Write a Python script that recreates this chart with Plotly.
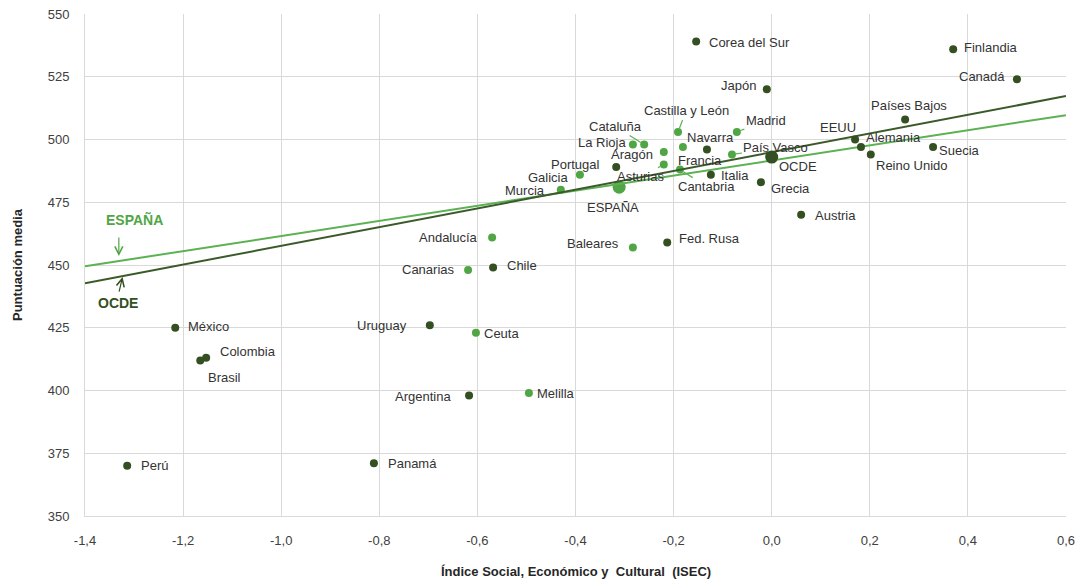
import plotly.graph_objects as go
import numpy as np

# ---------------- data ----------------
ocde_paises = ["Corea del Sur", "Finlandia", "Canadá", "Japón", "Países Bajos", "EEUU",
               "Alemania", "Reino Unido", "Suecia", "OCDE", "Francia", "Italia", "Grecia",
               "Portugal", "Austria", "Fed. Rusa", "Chile", "México", "Colombia", "Brasil",
               "Uruguay", "Argentina", "Panamá", "Perú"]
ocde_isec = [-0.154, 0.370, 0.500, -0.010, 0.272, 0.170,
             0.182, 0.202, 0.329, 0.000, -0.132, -0.124, -0.022,
             -0.317, 0.060, -0.213, -0.568, -1.216, -1.153, -1.165,
             -0.697, -0.617, -0.811, -1.314]
ocde_punt = [539, 536, 524, 520, 508, 500,
             497, 494, 497, 493, 496, 486, 483,
             489, 470, 459, 449, 425, 413, 412,
             426, 398, 371, 370]

esp_regiones = ["Andalucía", "Aragón", "Asturias", "Baleares", "Canarias", "Cantabria",
                "Castilla y León", "Cataluña", "Ceuta", "Galicia", "La Rioja", "Madrid",
                "Melilla", "Murcia", "Navarra", "País Vasco", "ESPAÑA"]
esp_isec = [-0.570, -0.220, -0.220, -0.283, -0.619, -0.187,
            -0.191, -0.260, -0.603, -0.391, -0.283, -0.071,
            -0.495, -0.430, -0.181, -0.081, -0.311]
esp_punt = [461, 495, 490, 457, 448, 488,
            503, 498, 423, 486, 498, 503,
            399, 480, 497, 494, 481]

trend_x = [-1.4, 0.6]
trend_ocde = [442.7, 517.3]
trend_esp = [449.5, 509.7]

x_ticks = [-1.4, -1.2, -1.0, -0.8, -0.6, -0.4, -0.2, 0.0, 0.2, 0.4, 0.6]
x_ticktext = ["-1,4", "-1,2", "-1,0", "-0,8", "-0,6", "-0,4", "-0,2", "0,0", "0,2", "0,4", "0,6"]
y_ticks = [350, 375, 400, 425, 450, 475, 500, 525, 550]

# ---------------- style ----------------
DARK = "#344f22"
LIGHT = "#50a645"
DARK_LINE = "#3b5a29"
LIGHT_LINE = "#5cb153"
FONT = "Liberation Sans, Arial, sans-serif"
TXT = "#333333"
big = {"OCDE": 13, "ESPAÑA": 13}

# label placement: (xanchor, dx px, dy px (down), leader line)
label_pos = {
    "Corea del Sur": ("left", 11, 1, False),
    "Finlandia": ("left", 9, -2, False),
    "Canadá": ("right", -10, -3, False),
    "Japón": ("right", -9, -4, False),
    "Países Bajos": ("center", 4, -14, False),
    "EEUU": ("center", -17, -12, False),
    "Alemania": ("left", 3, -10, False),
    "Reino Unido": ("left", 3, 11, False),
    "Suecia": ("left", 4, 3, False),
    "OCDE": ("left", 5, 9, False),
    "Francia": ("center", -7, 11, False),
    "Italia": ("left", 8, 1, False),
    "Grecia": ("left", 8, 6, False),
    "Portugal": ("right", -14, -3, False),
    "Austria": ("left", 12, 1, False),
    "Fed. Rusa": ("left", 10, -4, False),
    "Chile": ("left", 12, -2, False),
    "México": ("left", 11, -1, False),
    "Colombia": ("left", 12, -6, False),
    "Brasil": ("left", 6, 17, False),
    "Uruguay": ("right", -21, 0, False),
    "Argentina": ("right", -16, 1, False),
    "Panamá": ("left", 12, 0, False),
    "Perú": ("left", 12, 0, False),
    "Andalucía": ("right", -12, 0, False),
    "Aragón": ("right", -9, 2, False),
    "Asturias": ("center", -23, 12, True),
    "Baleares": ("right", -12, -4, False),
    "Canarias": ("right", -11, -1, False),
    "Cantabria": ("center", 27, 17, True),
    "Castilla y León": ("center", 8, -21, True),
    "Cataluña": ("center", -29, -18, True),
    "Ceuta": ("left", 6, 1, False),
    "Galicia": ("right", -9, 3, False),
    "La Rioja": ("right", -5, -2, False),
    "Madrid": ("center", 29, -11, True),
    "Melilla": ("left", 6, 0, False),
    "Murcia": ("right", -14, 1, False),
    "Navarra": ("center", 28, -10, True),
    "País Vasco": ("center", 44, -7, True),
    "ESPAÑA": ("center", -6, 20, False),
}

fig = go.Figure()

fig.add_trace(go.Scatter(
    x=esp_isec, y=esp_punt, mode="markers", name="España",
    marker=dict(color=LIGHT, size=[big.get(n, 8) for n in esp_regiones], line=dict(width=0),
                opacity=1),
    hoverinfo="text", text=esp_regiones, showlegend=False))

fig.add_trace(go.Scatter(x=trend_x, y=trend_esp, mode="lines",
                         line=dict(color=LIGHT_LINE, width=2), showlegend=False, hoverinfo="skip"))
fig.add_trace(go.Scatter(x=trend_x, y=trend_ocde, mode="lines",
                         line=dict(color=DARK_LINE, width=2), showlegend=False, hoverinfo="skip"))

fig.add_trace(go.Scatter(
    x=ocde_isec, y=ocde_punt, mode="markers", name="OCDE",
    marker=dict(color=DARK, size=[big.get(n, 8) for n in ocde_paises], line=dict(width=0),
                opacity=1),
    hoverinfo="text", text=ocde_paises, showlegend=False))

annotations = []
for names, xs, ys in ((ocde_paises, ocde_isec, ocde_punt),
                      (esp_regiones, esp_isec, esp_punt)):
    for n, xv, yv in zip(names, xs, ys):
        anc, dx, dy, leader = label_pos[n]
        if leader:
            annotations.append(dict(
                x=xv, y=yv, xref="x", yref="y", text=n, showarrow=True,
                arrowhead=0, arrowwidth=1.2, arrowcolor=LIGHT_LINE, ax=dx, ay=dy,
                standoff=4, font=dict(family=FONT, size=13, color=TXT)))
        else:
            annotations.append(dict(
                x=xv, y=yv, xref="x", yref="y", text=n, showarrow=False,
                xanchor=anc, yanchor="middle", xshift=dx, yshift=-dy,
                font=dict(family=FONT, size=13, color=TXT)))

# Trend line callouts
xa = -1.331
annotations.append(dict(x=xa, y=float(np.interp(xa, trend_x, trend_esp)), xref="x", yref="y",
                        text="", showarrow=True, arrowhead=5, arrowsize=1.3, arrowwidth=1.2,
                        arrowcolor=LIGHT, ax=0, ay=-25, standoff=5))
annotations.append(dict(x=xa, y=float(np.interp(xa, trend_x, trend_esp)), xref="x", yref="y",
                        text="<b>ESPAÑA</b>", showarrow=False, xshift=16, yshift=42,
                        font=dict(family=FONT, size=14, color=LIGHT)))
xb = -1.323
annotations.append(dict(x=xb, y=float(np.interp(xb, trend_x, trend_ocde)), xref="x", yref="y",
                        text="", showarrow=True, arrowhead=5, arrowsize=1.3, arrowwidth=1.2,
                        arrowcolor=DARK, ax=-4, ay=17, standoff=1))
annotations.append(dict(x=xb, y=float(np.interp(xb, trend_x, trend_ocde)), xref="x", yref="y",
                        text="<b>OCDE</b>", showarrow=False, xshift=-5, yshift=-27,
                        font=dict(family=FONT, size=14, color=DARK)))

# Axis titles
annotations.append(dict(x=0.5, y=0, xref="paper", yref="paper", yshift=-55,
                        text="<b>Índice Social, Económico y  Cultural  (ISEC)</b>", showarrow=False,
                        xanchor="center", yanchor="middle",
                        font=dict(family=FONT, size=13, color="#262626")))
annotations.append(dict(x=0, y=0.5, xref="paper", yref="paper", xshift=-68,
                        text="<b>Puntuación media</b>", showarrow=False, textangle=-90,
                        xanchor="center", yanchor="middle",
                        font=dict(family=FONT, size=13, color="#262626")))

# page body has an 8px margin: figure is sized so the plot area lands where the reference has it
fig.update_layout(
    width=1075, height=572,
    margin=dict(l=77, r=17, t=6, b=64, autoexpand=False),
    paper_bgcolor="white", plot_bgcolor="white",
    annotations=annotations,
    showlegend=False,
    xaxis=dict(range=[-1.4, 0.6], tickvals=x_ticks, ticktext=x_ticktext, automargin=False,
               showgrid=True, gridcolor="#d9d9d9", gridwidth=1,
               showline=True, linecolor="#d9d9d9", linewidth=1, mirror=False,
               zeroline=False, ticks="", ticklabelstandoff=12, ticklabeloverflow="allow",
               tickfont=dict(family=FONT, size=13, color="#404040")),
    yaxis=dict(range=[350, 550], tickvals=y_ticks, automargin=False,
               showgrid=True, gridcolor="#d9d9d9", gridwidth=1,
               showline=True, linecolor="#d9d9d9", linewidth=1,
               zeroline=False, ticks="", ticklabelstandoff=12, ticklabeloverflow="allow",
               tickfont=dict(family=FONT, size=13, color="#404040")),
)

fig.write_html("out.html")
